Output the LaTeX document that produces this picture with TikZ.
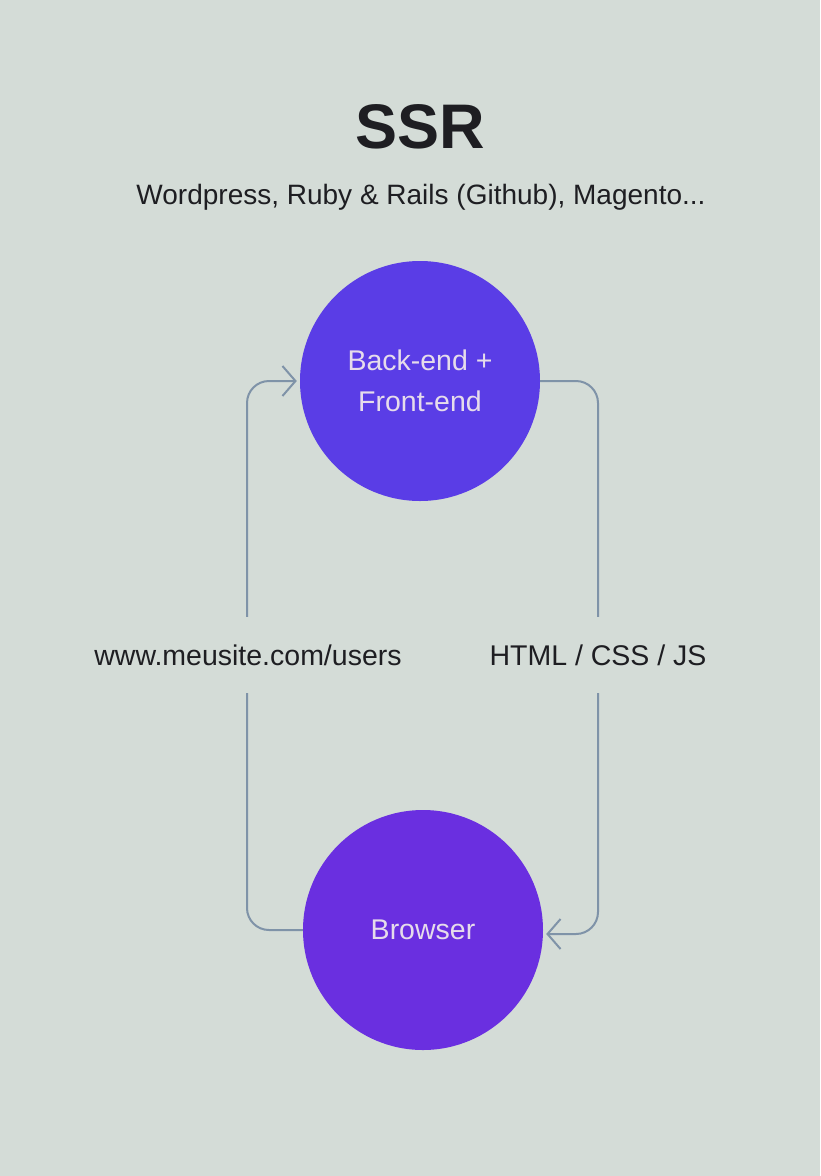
\documentclass[tikz,border=0pt]{standalone}
\usepackage{fontspec}
\setmainfont{Liberation Sans}
\usetikzlibrary{arrows.meta}
\definecolor{bg}{HTML}{D4DCD7}
\definecolor{topc}{HTML}{5A3DE6}
\definecolor{botc}{HTML}{6A2FE0}
\definecolor{linec}{HTML}{7F93A8}
\definecolor{ink}{HTML}{1E1E22}
\definecolor{circtext}{HTML}{E6DCEB}
\tikzset{
  x=1pt, y=-1pt,
  circ/.style={circle, minimum size=240pt, inner sep=0pt, text=circtext, font=\fontsize{28.5}{41}\selectfont, align=center},
  conn/.style={draw=linec, line width=2pt, rounded corners=22pt, -{Straight Barb[length=13pt,width=30pt,line width=2pt]}},
  lbl/.style={fill=bg, text=ink, inner xsep=4pt, inner ysep=28pt, font=\fontsize{28.5}{34}\selectfont}
}
\begin{document}
\begin{tikzpicture}
\fill[bg] (0,0) rectangle (820,1176);
\useasboundingbox (0,0) rectangle (820,1176);
\node[text=ink, font=\bfseries\fontsize{63}{70}\selectfont] (title) at (420,127) {SSR};
\node[text=ink, font=\fontsize{28}{34}\selectfont] (sub) at (421,197) {Wordpress, Ruby \& Rails (Github), Magento...};
\node[circ, fill=topc] (top) at (420,381) {Back-end +\\Front-end};
\node[circ, fill=botc] (br) at (423,930) {Browser};
\coordinate (lb) at (247,930);
\coordinate (lt) at (247,381);
\coordinate (rt) at (598,381);
\coordinate (rb) at (598,934);
\draw[conn] (br.west) -- (lb) -- (lt) -- ([xshift=-3pt]top.west);
\draw[conn] (top.east) -- (rt) -- (rb) -- ([xshift=3pt]br.east |- rb);
\node[lbl] (l1) at (248,655) {www.meusite.com/users};
\node[lbl] (l2) at (598,655) {HTML / CSS / JS};
\end{tikzpicture}
\end{document}
